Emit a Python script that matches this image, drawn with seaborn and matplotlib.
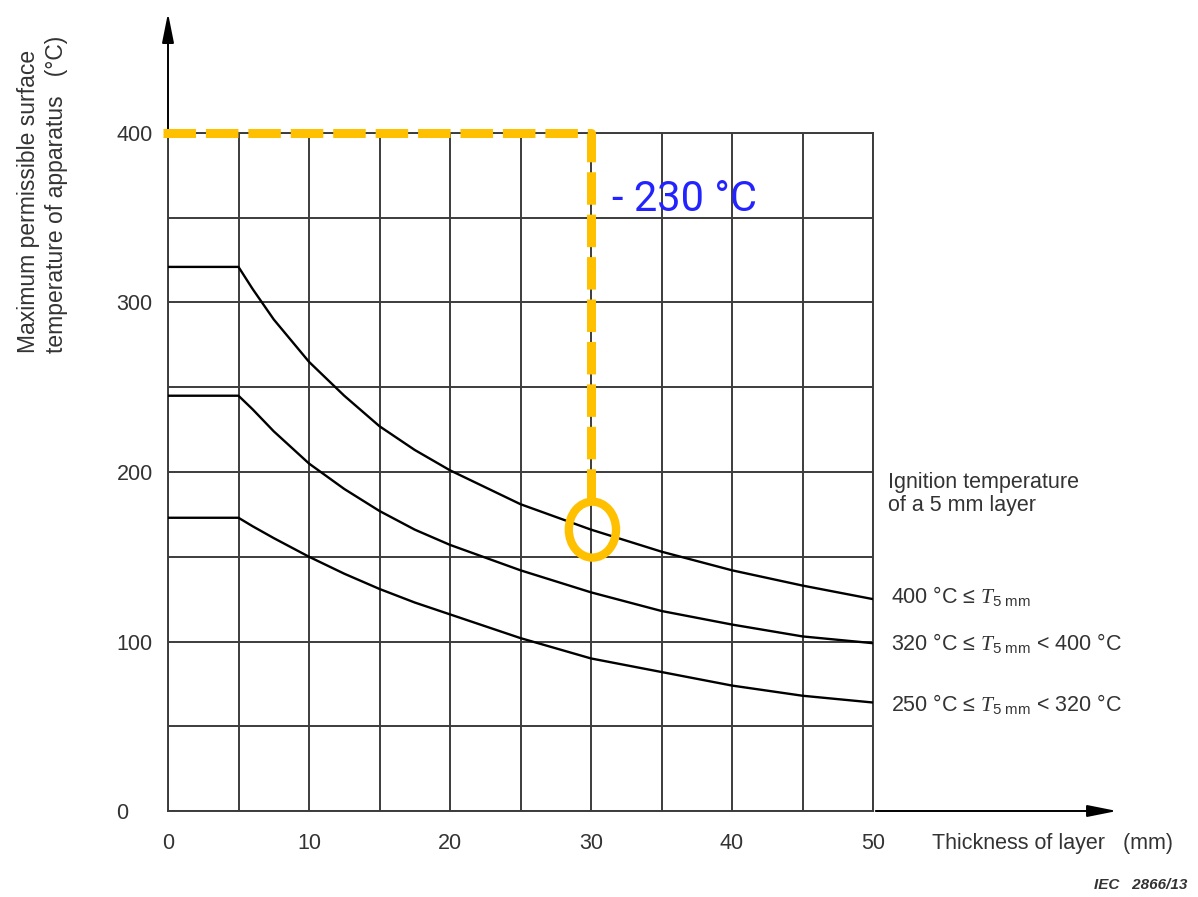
import numpy as np
import pandas as pd
import matplotlib
matplotlib.use("Agg")
import matplotlib.pyplot as plt
from matplotlib.patches import Ellipse
import seaborn as sns

# curve data (thickness in mm, temperature in degC)
thickness = [0, 5, 6, 7.5, 10, 12.5, 15, 17.5, 20, 25, 30, 35, 40, 45, 50]
temp_400 = [321, 321, 308, 290, 265, 245, 227, 213, 201, 181, 166, 153, 142, 133, 125]
temp_320 = [245, 245, 237, 224, 205, 190, 177, 166, 157, 142, 129, 118, 110, 103, 99]
temp_250 = [173, 173, 168, 161, 150, 140, 131, 123, 116, 102, 90, 82, 74, 68, 64]

curve_labels = [r"400 °C ≤ $\mathit{T}_{\mathrm{5\ mm}}$",
                r"320 °C ≤ $\mathit{T}_{\mathrm{5\ mm}}$ < 400 °C",
                r"250 °C ≤ $\mathit{T}_{\mathrm{5\ mm}}$ < 320 °C"]

x_ticks = [0, 10, 20, 30, 40, 50]
y_ticks = [0, 100, 200, 300, 400]

# highlighted reading
mark_x = 30
mark_top = 400
mark_y = temp_400[thickness.index(mark_x)]
mark_text = "- 230 °C"

sns.set_style("white")
plt.rcParams["font.family"] = ["Liberation Sans", "DejaVu Sans"]
plt.rcParams["mathtext.fontset"] = "custom"
plt.rcParams["mathtext.rm"] = "Liberation Sans"
plt.rcParams["mathtext.it"] = "Liberation Serif:italic"

grid_col = "#3c3c3c"
text_col = "#333333"
yellow = "#FFC000"

fig = plt.figure(figsize=(11.98, 8.97), dpi=100)
ax = fig.add_axes([168 / 1198, 86 / 897, 705 / 1198, 678 / 897])

df = pd.DataFrame({
    "thickness": thickness * 3,
    "temp": temp_400 + temp_320 + temp_250,
    "curve": [curve_labels[0]] * len(thickness) + [curve_labels[1]] * len(thickness)
             + [curve_labels[2]] * len(thickness),
})
sns.lineplot(data=df, x="thickness", y="temp", hue="curve",
             palette={c: "black" for c in curve_labels}, legend=False,
             lw=1.7, ax=ax, zorder=3)

ax.set_xlim(0, 50)
ax.set_ylim(0, 400)
ax.set_xticks(x_ticks)
ax.set_xticks(np.arange(0, 51, 5), minor=True)
ax.set_yticks(y_ticks)
ax.set_yticks(np.arange(0, 401, 50), minor=True)
ax.grid(True, which="both", color=grid_col, lw=1.4)
ax.tick_params(which="both", length=0, labelsize=15.5, labelcolor=text_col)
ax.tick_params(axis="x", pad=16)
ax.tick_params(axis="y", pad=37)
for lab in ax.get_yticklabels():
    lab.set_horizontalalignment("left")
for s in ax.spines.values():
    s.set_color(grid_col)
    s.set_linewidth(1.4)

ax.set_xlabel("")
ax.set_ylabel("Maximum permissible surface\ntemperature of apparatus   (°C)",
              fontsize=16.5, color=text_col, linespacing=1.25, multialignment="left")
ax.yaxis.set_label_coords(-0.142, 0.91)

# axis arrows
ax.annotate("", xy=(0, 1.181), xytext=(0, 1.0), xycoords="axes fraction",
            arrowprops=dict(arrowstyle="-|>,head_length=1.0,head_width=0.2",
                            mutation_scale=18, color="black", lw=1.4))
ax.annotate("", xy=(1.350, 0), xytext=(1.0, 0), xycoords="axes fraction",
            arrowprops=dict(arrowstyle="-|>,head_length=1.0,head_width=0.2",
                            mutation_scale=18, color="black", lw=1.4))

ax.text(54.2, -19, "Thickness of layer   (mm)", fontsize=15.5, color=text_col,
        ha="left", va="center")

# curve labels
ax.text(51.05, 200, "Ignition temperature\nof a 5 mm layer", fontsize=15.5,
        color=text_col, ha="left", va="top", linespacing=1.15)
for lab, series, dy in zip(curve_labels, [temp_400, temp_320, temp_250], [2, 0, -1]):
    ax.text(51.3, series[-1] + dy, lab, fontsize=15.5, color=text_col,
            ha="left", va="center")

# yellow highlight
ring_h = 33
ax.plot([-0.35, mark_x, mark_x], [mark_top, mark_top, mark_y + ring_h / 2],
        color=yellow, lw=6.5, linestyle=(0, (3.6, 1.1)), dash_capstyle="butt",
        clip_on=False, zorder=4)
ax.add_patch(Ellipse((mark_x + 0.1, mark_y), width=3.35, height=ring_h,
                     fill=False, edgecolor=yellow, lw=6, zorder=5, clip_on=False))
ax.text(mark_x + 1.5, 361, mark_text, fontsize=30, color="#2323ff",
        family=["Roboto", "DejaVu Sans"], ha="left", va="center", zorder=6)

fig.text(0.991, 0.0134, "IEC   2866/13", fontsize=11, style="italic",
         fontweight="bold", color=text_col, ha="right", va="center")

fig.savefig("out.png", dpi=100)
